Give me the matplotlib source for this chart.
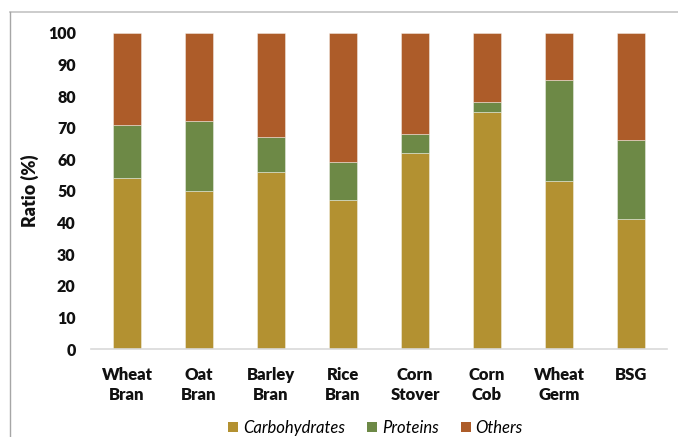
import matplotlib
matplotlib.use("Agg")
import matplotlib.pyplot as plt
from matplotlib.lines import Line2D
from matplotlib.patches import Patch
import numpy as np

categories = ["Wheat\nBran", "Oat\nBran", "Barley\nBran", "Rice\nBran",
              "Corn\nStover", "Corn\nCob", "Wheat\nGerm", "BSG"]
carbohydrates = [54, 50, 56, 47, 62, 75, 53, 41]
proteins = [17, 22, 11, 12, 6, 3, 32, 25]
others = [29, 28, 33, 41, 32, 22, 15, 34]
yticks = [0, 10, 20, 30, 40, 50, 60, 70, 80, 90, 100]

series = [("Carbohydrates", carbohydrates, "#B39131"),
          ("Proteins", proteins, "#6D8946"),
          ("Others", others, "#AD5C29")]

plt.rcParams["font.family"] = ["Lato", "DejaVu Sans"]
TEXT = "#111111"

fig = plt.figure(figsize=(6.78, 4.37), dpi=100)
ax = fig.add_axes([0.1342, 0.2007, 0.8496, 0.7245])

x = np.arange(len(categories))
bottom = np.zeros(len(categories))
for name, vals, color in series:
    ax.bar(x, vals, width=0.4, bottom=bottom, color=color,
           edgecolor=(1, 1, 1, 0.45), linewidth=0.6, label=name)
    bottom += np.array(vals)

ax.set_xlim(-0.5, len(categories) - 0.5)
ax.set_ylim(0, 100)
ax.set_yticks(yticks)
ax.set_yticklabels([str(v) for v in yticks], fontsize=11.5, fontweight="heavy",
                   color=TEXT)
ax.set_xticks(x)
ax.set_xticklabels(categories, fontsize=12, fontweight="heavy",
                   color=TEXT, linespacing=1.3, va="top")
ax.tick_params(axis="both", length=0)
ax.tick_params(axis="x", pad=12.5)
ax.tick_params(axis="y", pad=11)
ax.set_ylabel("Ratio (%)", fontsize=13, fontweight="heavy", color=TEXT,
              labelpad=6)

for side in ("left", "right", "top"):
    ax.spines[side].set_visible(False)
ax.spines["bottom"].set_color("#d9d9d9")
ax.spines["bottom"].set_linewidth(1.2)

handles = [Patch(facecolor=c, label=n) for n, _, c in series]
ax.legend(handles=handles, loc="center", bbox_to_anchor=(0.554, 0.021),
          bbox_transform=fig.transFigure, ncol=3, frameon=False,
          handlelength=0.6, handleheight=0.6, handletextpad=0.3,
          columnspacing=1.3, prop={"size": 12, "style": "italic"})

# frame lines along the top and left edges of the figure
fig.add_artist(Line2D([10 / 678, 1.0], [1 - 12 / 437, 1 - 12 / 437],
                      transform=fig.transFigure, color="#c4c4c4", lw=1.2))
fig.add_artist(Line2D([10 / 678, 10 / 678], [0.0, 1 - 12 / 437],
                      transform=fig.transFigure, color="#a6a6a6", lw=1.0))

fig.savefig("out.png", dpi=100)
